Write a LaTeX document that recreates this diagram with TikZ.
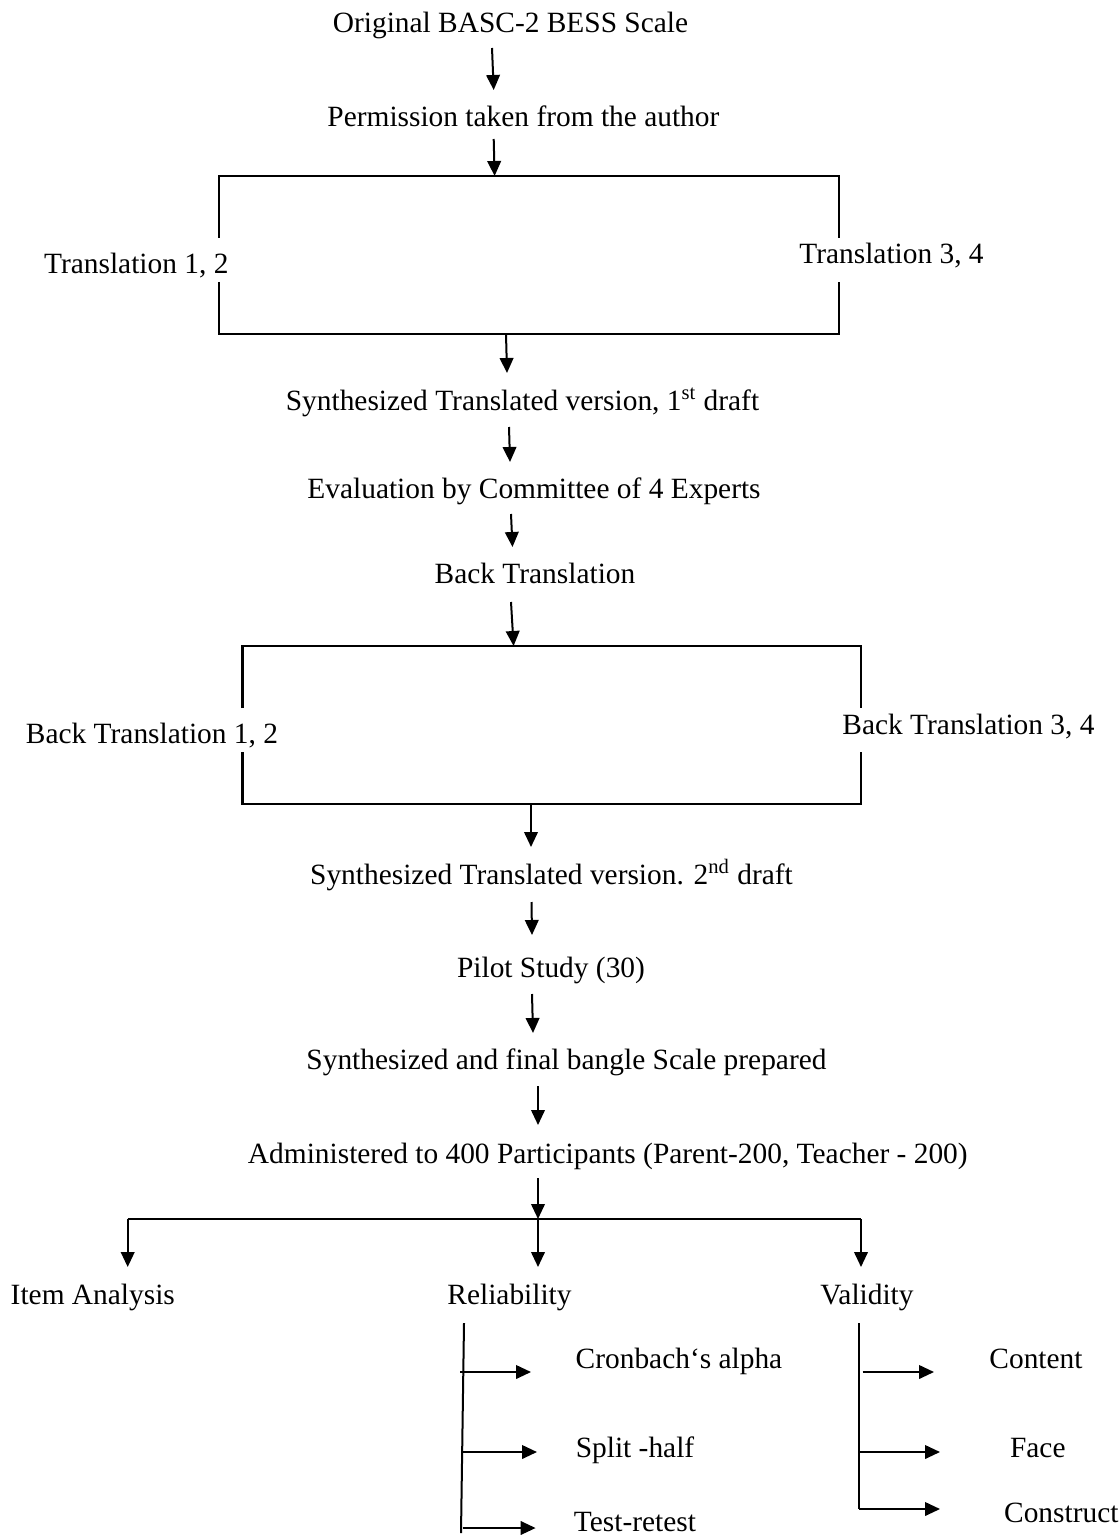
\documentclass[tikz,border=0pt]{standalone}
\usepackage{fontspec}
\setmainfont{Liberation Serif}
\usetikzlibrary{arrows.meta}
\begin{document}
\begin{tikzpicture}[x=0.5pt,y=-0.5pt,
  lbl/.style={anchor=base,inner sep=0pt,font=\fontsize{14.7}{17.6}\selectfont},
  conn/.style={line width=1pt},
  brk/.style={line width=1.2pt},
  arr/.style={conn,-{Triangle[length=7.5pt,width=6.8pt]}}]
\useasboundingbox (0,0) rectangle (1119,1535);
% ---- text nodes
\node[lbl] (orig)  at (510.5,33)  {Original BASC-2 BESS Scale};
\node[lbl] (perm)  at (523.4,127) {Permission taken from the author};
\node[lbl] (t12)   at (136.3,274) {Translation 1, 2};
\node[lbl] (t34)   at (891.5,264) {Translation 3, 4};
\node[lbl] (syn1)  at (522.5,410) {Synthesized Translated version, 1\textsuperscript{st} draft};
\node[lbl] (eval)  at (534,498)   {Evaluation by Committee of 4 Experts};
\node[lbl] (back)  at (535,583)   {Back Translation};
\node[lbl] (bt12)  at (152,743)   {Back Translation 1, 2};
\node[lbl] (bt34)  at (968.5,734) {Back Translation 3, 4};
\node[lbl] (syn2)  at (551.5,884) {Synthesized Translated version. 2\textsuperscript{nd} draft};
\node[lbl] (pilot) at (551,977)   {Pilot Study (30)};
\node[lbl] (final) at (566.5,1069){Synthesized and final bangle Scale prepared};
\node[lbl] (admin) at (607.8,1163){Administered to 400 Participants (Parent-200, Teacher - 200)};
\node[lbl] (item)  at (92.8,1304) {Item Analysis};
\node[lbl] (rel)   at (509.5,1304){Reliability};
\node[lbl] (val)   at (867,1304)  {Validity};
\node[lbl] (cron)  at (679,1368)  {Cronbach‘s alpha};
\node[lbl] (split) at (635,1457)  {Split -half};
\node[lbl] (test)  at (635,1531)  {Test-retest};
\node[lbl] (cont)  at (1036,1368) {Content};
\node[lbl] (face)  at (1037.8,1457){Face};
\node[lbl] (cons)  at (1061.3,1522){Construct};
% ---- coordinates
\coordinate (a1s) at (492,48);   \coordinate (a1e) at (493.7,90);
\coordinate (a2s) at (493.7,139);\coordinate (a2e) at (494.6,176);
\coordinate (b1tl) at (219,176); \coordinate (b1tr) at (839,176);
\coordinate (b1bl) at (219,334); \coordinate (b1br) at (839,334);
\coordinate (b1lu) at (219,238); \coordinate (b1ll) at (219,282);
\coordinate (b1ru) at (839,238); \coordinate (b1rl) at (839,282);
\coordinate (a3s) at (506,334);  \coordinate (a3e) at (507,373);
\coordinate (a4s) at (509,427);  \coordinate (a4e) at (510,462);
\coordinate (a5s) at (511,514);  \coordinate (a5e) at (512.5,547);
\coordinate (a6s) at (511,602);  \coordinate (a6e) at (513.6,646);
\coordinate (b2tl) at (242.5,646); \coordinate (b2tr) at (861,646);
\coordinate (b2bl) at (242.5,804); \coordinate (b2br) at (861,804);
\coordinate (b2lu) at (242.5,708); \coordinate (b2ll) at (242.5,752);
\coordinate (b2ru) at (861,708);   \coordinate (b2rl) at (861,752);
\coordinate (a7s) at (531,804);  \coordinate (a7e) at (531,847);
\coordinate (a8s) at (531.5,902);\coordinate (a8e) at (532,935);
\coordinate (a9s) at (532,994);  \coordinate (a9e) at (533,1033);
\coordinate (a10s) at (538,1086);\coordinate (a10e) at (538,1125);
\coordinate (a11s) at (538,1178);\coordinate (hub) at (538,1219);
\coordinate (hl) at (127.7,1219);\coordinate (hr) at (861,1219);
\coordinate (dl) at (127.7,1267);\coordinate (dm) at (538,1267);
\coordinate (dr) at (861,1267);
\coordinate (rtop) at (464,1323);\coordinate (rbot) at (461,1533);
\coordinate (r1s) at (460,1372); \coordinate (r1e) at (531,1372);
\coordinate (r2s) at (461,1452); \coordinate (r2e) at (537,1452);
\coordinate (r3s) at (462.5,1528);\coordinate (r3e) at (535.6,1528);
\coordinate (vtop) at (859,1323);\coordinate (vbot) at (859,1509);
\coordinate (v1s) at (862.7,1372);\coordinate (v1e) at (934,1372);
\coordinate (v2s) at (859,1452); \coordinate (v2e) at (940,1452);
\coordinate (v3e) at (940,1509);
% ---- connectors
\draw[arr] (a1s) -- (a1e);
\draw[arr] (a2s) -- (a2e);
\draw[brk] (b1lu) -- (b1tl) -- (b1tr) -- (b1ru);
\draw[brk] (b1ll) -- (b1bl) -- (b1br) -- (b1rl);
\draw[arr] (a3s) -- (a3e);
\draw[arr] (a4s) -- (a4e);
\draw[arr] (a5s) -- (a5e);
\draw[arr] (a6s) -- (a6e);
\draw[brk] (b2lu) -- (b2tl) -- (b2tr) -- (b2ru);
\draw[brk] (b2ll) -- (b2bl) -- (b2br) -- (b2rl);
\draw[arr] (a7s) -- (a7e);
\draw[arr] (a8s) -- (a8e);
\draw[arr] (a9s) -- (a9e);
\draw[arr] (a10s) -- (a10e);
\draw[arr] (a11s) -- (hub);
\draw[brk] (hl) -- (hr);
\draw[arr] (hl) -- (dl);
\draw[arr] (hub) -- (dm);
\draw[arr] (hr) -- (dr);
\draw[conn] (rtop) -- (rbot);
\draw[arr] (r1s) -- (r1e);
\draw[arr] (r2s) -- (r2e);
\draw[arr] (r3s) -- (r3e);
\draw[conn] (vtop) -- (vbot);
\draw[arr] (v1s) -- (v1e);
\draw[arr] (v2s) -- (v2e);
\draw[arr] (vbot) -- (v3e);
\end{tikzpicture}
\end{document}
